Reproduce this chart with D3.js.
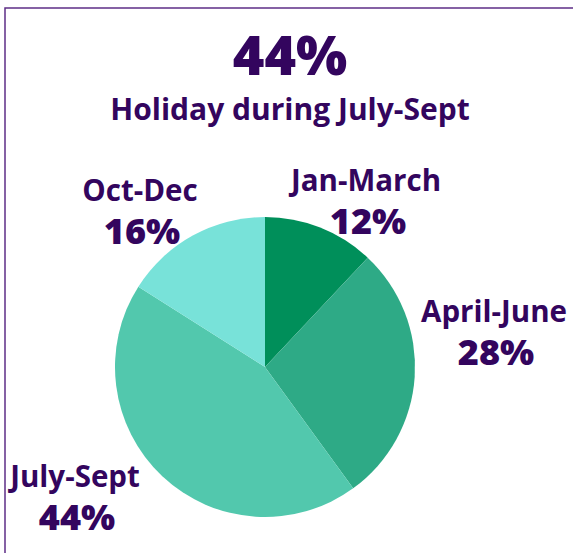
<!DOCTYPE html>
<meta charset="utf-8">
<style>
  body { margin: 0; background: #fff; }
  text { font-family: "Open Sans", Lato, sans-serif; fill: #33055e; }
  .name { font-weight: 700; font-size: 29.5px; }
  .pct { font-weight: 800; font-size: 36px; }
</style>
<body>
<script src="https://d3js.org/d3.v7.min.js"></script>
<script>
var width = 573,
    height = 553;

// data
var quarters = ["Jan-March", "April-June", "July-Sept", "Oct-Dec"];
var shares = [12, 28, 44, 16];
var colors = ["#008f5a", "#2eaa86", "#52c8ad", "#78e2d9"];

// where each label sits (centre x, name baseline y)
var labelPos = {
  "Jan-March": [366, 191],
  "April-June": [494, 322],
  "July-Sept": [75, 487],
  "Oct-Dec": [140, 201]
};

var data = quarters.map((q, i) => ({ name: q, value: shares[i], color: colors[i] }));

var svg = d3.select("body").append("svg")
    .attr("width", width)
    .attr("height", height);

// frame lines on top and left
svg.append("path")
    .attr("d", `M5,${height} V8 H${width}`)
    .attr("fill", "none")
    .attr("stroke", "#5e2e87")
    .attr("stroke-width", 1.5);

// heading
svg.append("text")
    .attr("x", 290).attr("y", 75)
    .attr("text-anchor", "middle")
    .style("font-weight", 800)
    .style("font-size", "54px")
    .text(d3.max(shares) + "%");

svg.append("text")
    .attr("x", 290).attr("y", 120)
    .attr("text-anchor", "middle")
    .style("font-weight", 700)
    .style("font-size", "30px")
    .text("Holiday during " + quarters[shares.indexOf(d3.max(shares))]);

var pie = d3.pie()
    .value(d => d.value)
    .sort(null);

var arc = d3.arc()
    .innerRadius(0)
    .outerRadius(150);

var g = svg.append("g")
    .attr("transform", "translate(265,367)");

g.selectAll("path")
  .data(pie(data))
  .enter().append("path")
    .attr("d", arc)
    .attr("fill", d => d.data.color);

var labels = svg.append("g")
  .selectAll("g")
  .data(data)
  .enter().append("g")
    .attr("transform", d => `translate(${labelPos[d.name]})`)
    .attr("text-anchor", "middle");

labels.append("text")
    .attr("class", "name")
    .text(d => d.name);

labels.append("text")
    .attr("class", "pct")
    .attr("x", 2)
    .attr("y", 43)
    .text(d => d.value + "%");
</script>
</body>
</html>
